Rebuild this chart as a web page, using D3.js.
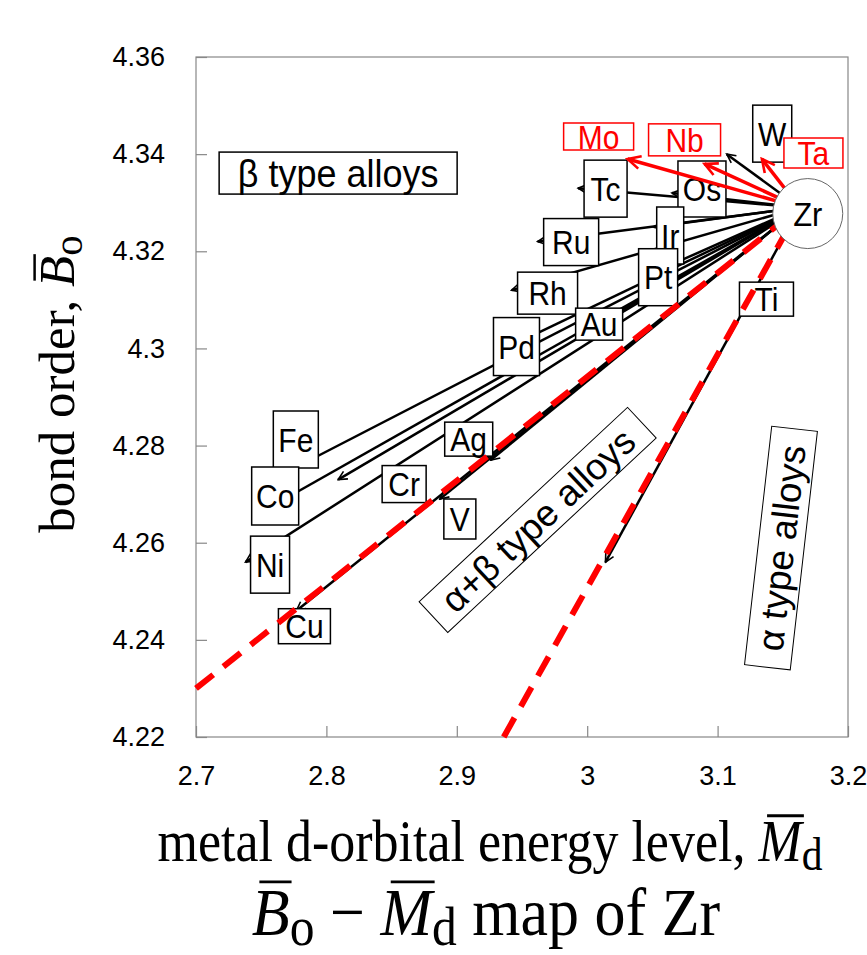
<!DOCTYPE html>
<html>
<head>
<meta charset="utf-8">
<script src="https://cdnjs.cloudflare.com/ajax/libs/d3/7.8.5/d3.min.js"></script>
<style>
body { margin: 0; background: #fff; }
text { font-family: 'Liberation Sans', Arial, sans-serif; }
.serif { font-family: 'Liberation Serif', 'Times New Roman', serif; }
</style>
</head>
<body>
<div class="canvas"></div>
<script>
// alloying elements, arrow end points (Md, Bo)
const elements = ['Mo', 'Nb', 'W', 'Ta', 'Tc', 'Os', 'Ru', 'Ir', 'Rh', 'Pt', 'Au', 'Pd', 'Ag', 'V', 'Cr', 'Fe', 'Co', 'Ni', 'Cu', 'Ti']
const mdValues = [3.031, 3.090, 3.107, 3.134, 2.993, 3.065, 2.962, 3.051, 2.942, 3.054, 3.008, 2.945, 2.926, 2.887, 2.809, 2.780, 2.768, 2.738, 2.777, 3.014]
const boValues = [4.339, 4.338, 4.340, 4.339, 4.333, 4.332, 4.322, 4.325, 4.312, 4.316, 4.305, 4.301, 4.277, 4.269, 4.273, 4.276, 4.269, 4.256, 4.246, 4.256]
const redElements = ['Mo', 'Nb', 'Ta']

// base metal
const baseName = 'Zr'
const baseMd = 3.163
const baseBo = 4.329

// boundary lines between alloy types (start -> end)
const boundaryMd = [[2.7, 3.163], [2.936, 3.163]]
const boundaryBo = [[4.23, 4.329], [4.22, 4.329]]

// region names and where they sit (Md, Bo)
const regionNames = ['β type alloys', 'α+β type alloys', 'α type alloys']
const regionMd = [2.809, 2.962, 3.1486]
const regionBo = [4.3361, 4.2647, 4.2589]

const xTicks = [2.7, 2.8, 2.9, 3.0, 3.1, 3.2]
const yTicks = [4.22, 4.24, 4.26, 4.28, 4.30, 4.32, 4.34, 4.36]

// label box layout: offset from arrow tip [dx, dy, w, h] in px
const labelLayout = {
  Mo: [-29, -22.5, 70, 27], Nb: [-20, -24, 72, 32], W: [45.5, -20.5, 39, 57], Ta: [51.5, -6, 59, 30],
  Tc: [27.5, 0.5, 43, 57], Os: [30, -4, 48, 56], Ru: [33.5, 0.5, 55, 47], Ir: [16.5, 8.5, 27, 57],
  Rh: [36, 3, 60, 42], Pt: [0.5, 6.5, 39, 57], Au: [1.5, 0, 47, 32], Pd: [1, 3, 46, 58],
  Ag: [-22, -21, 48, 34], V: [20, 20, 32, 40], Cr: [66, 4.5, 44, 37], Fe: [-4.5, -25.5, 45, 57],
  Co: [-9.5, -3, 47, 58], Ni: [24.5, 2.5, 39, 57], Cu: [8, 15.5, 52, 35], Ti: [161, -263, 54, 34]
}
// [angle, w, h, font size]
const regionLayout = [[0, 238, 42, 36], [-43, 285, 42, 37], [-83.5, 240, 46, 37]]

const svg = d3.select('.canvas')
              .append('svg')
              .attr('width', 867)
              .attr('height', 955)

const x = d3.scaleLinear().domain([2.7, 3.2]).range([196, 848])
const y = d3.scaleLinear().domain([4.22, 4.36]).range([737, 57])

const defs = svg.append('defs')
const addMarker = (id, color, size, sw) => {
  defs.append('marker')
    .attr('id', id)
    .attr('viewBox', `0 0 ${size} ${size}`)
    .attr('markerUnits', 'userSpaceOnUse')
    .attr('markerWidth', size).attr('markerHeight', size)
    .attr('refX', size - sw).attr('refY', size / 2)
    .attr('orient', 'auto')
    .append('path')
    .attr('d', `M${sw},${sw} L${size - sw},${size / 2} L${sw},${size - sw}`)
    .attr('fill', 'none').attr('stroke', color).attr('stroke-width', sw)
}
addMarker('arrowBlack', '#000', 12, 1.6)
addMarker('arrowRed', '#ff0000', 18, 2.6)

// frame + axes
svg.append('rect')
  .attr('x', 196).attr('y', 57).attr('width', 652).attr('height', 680)
  .attr('fill', 'none').attr('stroke', '#888').attr('stroke-width', 1.2)

const xAxis = d3.axisBottom(x).tickValues(xTicks).tickSizeInner(-11).tickSizeOuter(0)
  .tickPadding(29).tickFormat(d => +d.toFixed(1))
const yAxis = d3.axisLeft(y).tickValues(yTicks).tickSizeInner(-11).tickSizeOuter(0)
  .tickPadding(31).tickFormat(d => +d.toFixed(2))

const xg = svg.append('g').attr('transform', 'translate(0,737)').call(xAxis)
const yg = svg.append('g').attr('transform', 'translate(196,0)').call(yAxis)
;[xg, yg].forEach(g => {
  g.select('.domain').remove()
  g.selectAll('line').attr('stroke', '#888').attr('stroke-width', 1.2)
  g.selectAll('text').attr('font-size', 27).attr('fill', '#000')
    .attr('font-family', "'Liberation Sans', Arial, sans-serif")
})

const pts = elements.map((e, i) => ({name: e, md: mdValues[i], bo: boValues[i], red: redElements.includes(e)}))
const x0 = x(baseMd), y0 = y(baseBo)

// black arrows first
const graph = svg.append('g')
graph.selectAll('line.black')
  .data(pts.filter(d => !d.red))
  .enter().append('line')
  .attr('class', 'black')
  .attr('x1', x0).attr('y1', y0)
  .attr('x2', d => x(d.md)).attr('y2', d => y(d.bo))
  .attr('stroke', '#000').attr('stroke-width', 2.5)
  .attr('marker-end', 'url(#arrowBlack)')

// label boxes
const labels = svg.append('g').selectAll('g')
  .data(pts)
  .enter().append('g')
  .attr('transform', d => {
    const l = labelLayout[d.name]
    return `translate(${x(d.md) + l[0]},${y(d.bo) + l[1]})`
  })
labels.append('rect')
  .attr('x', d => -labelLayout[d.name][2] / 2)
  .attr('y', d => -labelLayout[d.name][3] / 2)
  .attr('width', d => labelLayout[d.name][2])
  .attr('height', d => labelLayout[d.name][3])
  .attr('fill', 'white')
  .attr('stroke', d => d.red ? '#ff0000' : '#000')
  .attr('stroke-width', 1.5)
labels.append('text')
  .attr('text-anchor', 'middle')
  .attr('dy', '0.36em')
  .attr('font-size', 30)
  .attr('transform', 'scale(1,1.12)')
  .attr('fill', d => d.red ? '#ff0000' : '#000')
  .text(d => d.name)

// red arrows on top
svg.append('g').selectAll('line')
  .data(pts.filter(d => d.red))
  .enter().append('line')
  .attr('x1', x0).attr('y1', y0)
  .attr('x2', d => x(d.md)).attr('y2', d => y(d.bo))
  .attr('stroke', '#ff0000').attr('stroke-width', 3.5)
  .attr('marker-end', 'url(#arrowRed)')

// dashed boundaries
svg.append('g').selectAll('line')
  .data(boundaryMd.map((m, i) => ({m, b: boundaryBo[i]})))
  .enter().append('line')
  .attr('x1', d => x(d.m[0])).attr('y1', d => y(d.b[0]))
  .attr('x2', d => x(d.m[1])).attr('y2', d => y(d.b[1]))
  .attr('stroke', '#ff0000').attr('stroke-width', 6)
  .attr('stroke-dasharray', '22,13')

// Zr circle
const base = svg.append('g').attr('transform', `translate(${x0 + 8},${y0 + 6})`)
base.append('circle').attr('r', 35).attr('fill', 'white').attr('stroke', '#666').attr('stroke-width', 1)
base.append('text').attr('text-anchor', 'middle').attr('dy', '0.36em').attr('font-size', 31)
  .attr('transform', 'scale(1,1.1)').text(baseName)

// alloy-type regions
const regions = svg.append('g').selectAll('g')
  .data(regionNames.map((n, i) => ({n, md: regionMd[i], bo: regionBo[i], l: regionLayout[i]})))
  .enter().append('g')
  .attr('transform', d => `translate(${x(d.md)},${y(d.bo)}) rotate(${d.l[0]})`)
regions.append('rect')
  .attr('x', d => -d.l[1] / 2).attr('y', d => -d.l[2] / 2)
  .attr('width', d => d.l[1]).attr('height', d => d.l[2])
  .attr('fill', 'white').attr('stroke', '#000').attr('stroke-width', d => d.l[0] === 0 ? 1.5 : 1)
regions.append('text')
  .attr('text-anchor', 'middle').attr('dy', '0.36em')
  .attr('font-size', d => d.l[3])
  .attr('transform', d => d.l[0] === 0 ? 'scale(1,1.1)' : null)
  .text(d => d.n)

// titles with overlined symbols
const overline = (g, text, ch) => {
  const node = text.node()
  const idx = node.textContent.indexOf(ch)
  const ext = node.getExtentOfChar(idx)
  g.append('line')
    .attr('x1', ext.x + ext.width * 0.2).attr('x2', ext.x + ext.width * 1.05)
    .attr('y1', ext.y + ext.height * 0.1).attr('y2', ext.y + ext.height * 0.1)
    .attr('stroke', '#000').attr('stroke-width', 2.5)
}

const xTitle = svg.append('g').attr('transform', 'translate(490,861) scale(1,1.12)')
const xt = xTitle.append('text').attr('class', 'serif').attr('text-anchor', 'middle').attr('font-size', 52)
xt.append('tspan').text('metal d-orbital energy level, ')
xt.append('tspan').attr('font-style', 'italic').text('M')
xt.append('tspan').attr('font-size', '0.8em').attr('dy', '0.2em').text('d')
overline(xTitle, xt, 'M')

const yTitle = svg.append('g').attr('transform', 'translate(74,384) rotate(-90)')
const yt = yTitle.append('text').attr('class', 'serif').attr('text-anchor', 'middle').attr('font-size', 51)
yt.append('tspan').text('bond order, ')
yt.append('tspan').attr('font-style', 'italic').text('B')
yt.append('tspan').attr('font-size', '0.8em').attr('dy', '0.2em').text('o')
overline(yTitle, yt, 'B')

const title = svg.append('g').attr('transform', 'translate(486,935) scale(1,1.1)')
const tt = title.append('text').attr('class', 'serif').attr('text-anchor', 'middle').attr('font-size', 62)
tt.append('tspan').attr('font-style', 'italic').text('B')
tt.append('tspan').attr('font-size', '0.8em').attr('dy', '0.18em').text('o')
tt.append('tspan').attr('dy', '-0.144em').text(' − ')
tt.append('tspan').attr('font-style', 'italic').text('M')
tt.append('tspan').attr('font-size', '0.8em').attr('dy', '0.18em').text('d')
tt.append('tspan').attr('dy', '-0.144em').text(' map of Zr')
overline(title, tt, 'B')
overline(title, tt, 'M')
</script>
</body>
</html>
